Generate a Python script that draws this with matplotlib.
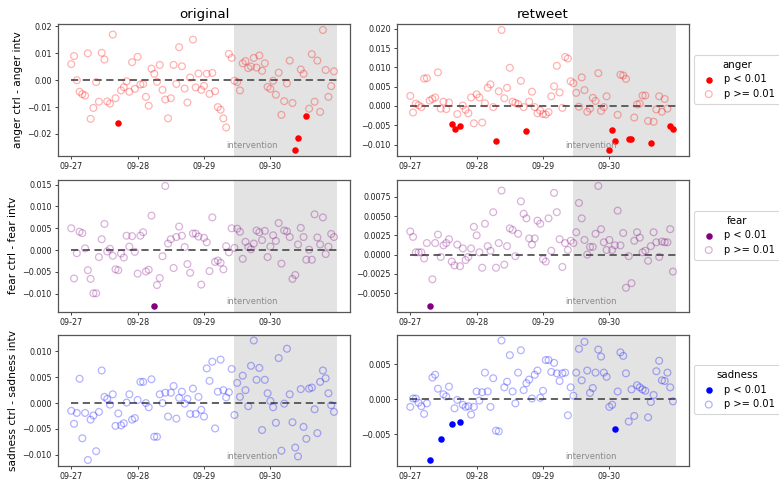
import numpy as np
import pandas as pd
import matplotlib
matplotlib.use("Agg")
import matplotlib.pyplot as plt
import matplotlib.dates as mdates
import matplotlib.transforms as mtransforms
from matplotlib.ticker import MultipleLocator, FixedLocator

# ---------------- data ----------------
hours = pd.date_range("2020-09-27 00:00", periods=96, freq="h")
day_ticks = pd.date_range("2020-09-27", periods=4, freq="D")
intervention_start = pd.Timestamp("2020-09-29 11:00")
intervention_end = pd.Timestamp("2020-10-01 00:00")
intervention_label_x = pd.Timestamp("2020-09-29 17:20")

emotions = ["anger", "fear", "sadness"]
columns = ["original", "retweet"]

anger_original = [
    0.006, 0.009, 0.0, -0.0043, -0.0052, -0.0057, 0.010, -0.0144, -0.0103, -0.0007,
    -0.008, 0.0102, 0.0077, -0.0079, -0.0087, 0.017, -0.0067, -0.016, -0.0038, -0.0026,
    -0.0004, -0.0043, 0.0067, -0.0032, 0.0087, -0.0016, -0.0014, -0.0062, -0.0095, 0.0043,
    0.0024, -0.0006, 0.0057, -0.0036, -0.0072, -0.0142, -0.0067, 0.0057, -0.0014, 0.0123,
    0.0052, -0.0031, -0.0083, 0.001, 0.0151, -0.0027, 0.0025, -0.0036, -0.0021, 0.0024,
    -0.0051, 0.0027, -0.0041, -0.010, -0.011, -0.0142, -0.0176, 0.0098, 0.0083, -0.0002,
    -0.0007, -0.0038, 0.0063, 0.0071, 0.0045, 0.0051, 0.0083, 0.0047, 0.0092, 0.0035,
    0.0063, -0.0025, -0.0032, -0.0002, -0.0054, 0.0028, -0.0129, -0.0078, -0.0012, 0.0073,
    -0.0085, -0.0258, -0.0214, 0.004, 0.0024, -0.0134, -0.0106, 0.0097, -0.008, 0.0073,
    -0.0118, 0.0187, 0.0038, -0.0062, -0.0022, 0.0033]
anger_original_sig = [17, 81, 82, 85]

anger_retweet = [
    0.0026, -0.0017, 0.0006, 0.0002, -0.0003, 0.0071, 0.0072, 0.0014, 0.0018, 0.0022,
    0.0087, -0.0007, 0.0011, -0.0008, 0.0009, -0.0047, -0.0061, -0.0021, -0.0053, 0.0001,
    -0.001, -0.0019, 0.0022, -0.0045, 0.003, 0.0022, -0.0043, 0.0007, 0.0047, 0.0056,
    -0.0003, -0.009, 0.0038, 0.0197, 0.002, 0.0047, 0.0099, 0.0011, 0.0008, 0.0005,
    0.0065, -0.0003, -0.0066, 0.0011, 0.0037, -0.0003, -0.0019, -0.0012, -0.0021, -0.0022,
    -0.0016, 0.0025, 0.0051, 0.0104, 0.0035, -0.0005, 0.0127, 0.0123, 0.0064, 0.0059,
    0.0034, -0.0002, 0.0074, 0.0041, -0.0015, -0.0007, 0.0021, 0.0013, 0.0085, -0.0013,
    -0.0003, 0.0025, -0.0113, -0.0063, -0.0091, -0.0023, 0.0081, 0.0079, 0.007, -0.0085,
    -0.0087, -0.003, 0.0004, 0.0006, 0.0027, 0.0027, -0.0039, -0.0097, -0.0041, -0.0009,
    0.0025, -0.0015, 0.0018, -0.0007, -0.0051, -0.0059]
anger_retweet_sig = [15, 16, 18, 31, 42, 72, 73, 74, 79, 80, 87, 94, 95]

fear_original = [
    0.005, -0.0065, -0.0007, 0.0042, 0.0039, 0.0004, -0.0046, -0.0066, -0.0099, -0.0099,
    -0.0016, 0.0025, 0.006, -0.0003, 0.0003, -0.0013, -0.0044, -0.0046, -0.0008, -0.0017,
    0.0033, 0.0008, 0.0032, -0.0004, -0.0054, 0.0033, 0.0041, -0.0049, -0.0045, 0.0079,
    -0.0127, -0.008, -0.0064, -0.0014, 0.0147, 0.0015, 0.0025, -0.0041, 0.003, 0.0054,
    0.0033, 0.0007, -0.0032, -0.0052, 0.0038, 0.0038, 0.0031, -0.0079, 0.0028, 0.0018,
    -0.0048, 0.0075, -0.0027, -0.0024, -0.0029, -0.0044, 0.0009, -0.0005, 0.005, 0.0005,
    0.0049, 0.0042, -0.002, 0.0019, 0.0007, 0.0002, 0.0015, 0.0045, 0.0041, 0.0023,
    0.0044, -0.0016, 0.0008, 0.0034, 0.0021, 0.0062, -0.0031, 0.0045, 0.0043, 0.003,
    -0.0066, -0.0057, 0.0013, 0.0051, 0.003, -0.0022, 0.0001, -0.0022, 0.0082, 0.0029,
    0.0013, 0.0075, -0.0009, 0.0008, 0.0037, 0.003]
fear_original_sig = [30]

fear_retweet = [
    0.003, 0.0023, 0.0003, 0.0003, 0.0003, -0.0005, 0.0015, -0.0066, -0.0032, 0.0015,
    0.0026, -0.0003, 0.0012, 0.0015, 0.002, -0.0009, -0.0014, 0.0013, -0.0015, 0.0008,
    -0.0007, -0.0003, 0.0008, 0.0036, 0.0025, 0.0003, -0.0017, 0.004, 0.0011, 0.0005,
    0.0055, -0.0017, 0.0015, 0.0083, -0.0013, 0.0011, 0.0034, 0.0032, -0.0002, 0.0027,
    0.0069, 0.0053, 0.0047, 0.0021, 0.0013, 0.0021, 0.0044, 0.004, -0.0006, -0.0009,
    0.0047, 0.0005, 0.008, 0.0055, 0.002, -0.0016, 0.0015, 0.0006, 0.0018, 0.0015,
    0.0029, 0.0067, 0.0047, 0.0019, 0.0, 0.001, 0.001, 0.0027, 0.0089, 0.0033,
    0.0016, 0.0006, 0.0019, 0.0006, 0.0012, 0.0057, 0.0012, 0.0028, -0.0043, -0.0002,
    -0.0037, 0.0018, 0.0029, 0.0022, 0.0003, 0.0005, -0.0008, 0.0011, 0.0029, 0.0016,
    -0.0003, 0.0017, 0.0016, 0.0016, 0.0033, -0.0022]
fear_retweet_sig = [7]

sadness_original = [
    -0.0015, -0.004, -0.0019, 0.0047, -0.0068, -0.0019, -0.011, -0.0032, -0.0024, -0.0093,
    -0.0017, 0.0063, 0.0012, 0.0008, -0.0003, 0.0017, -0.0044, -0.002, -0.0043, -0.0039,
    0.0001, 0.0017, -0.0032, -0.0029, 0.0006, 0.0041, 0.0041, 0.0, -0.0008, 0.0046,
    -0.0065, -0.0065, 0.0017, 0.0, 0.002, -0.0026, 0.002, 0.0033, -0.003, 0.001,
    0.0022, -0.0001, 0.0008, -0.0021, 0.0028, -0.0021, 0.0012, -0.0013, -0.0026, 0.0067,
    0.0043, 0.008, -0.0049, 0.0022, 0.0084, 0.0025, 0.0011, 0.0021, 0.0066, -0.0023,
    0.0039, 0.0012, 0.0053, 0.0025, -0.0006, 0.0072, 0.0121, 0.0045, 0.0068, -0.0052,
    0.0045, 0.0019, 0.0004, -0.0008, -0.0038, 0.0087, -0.0092, -0.0001, 0.0105, 0.0017,
    -0.0037, -0.0086, -0.0103, 0.0027, -0.0046, -0.0069, 0.0028, 0.003, -0.0012, -0.0058,
    0.0041, 0.0063, 0.0048, 0.0019, -0.0004, -0.0017]
sadness_original_sig = []

sadness_retweet = [
    -0.0011, 0.0001, 0.0001, -0.0005, -0.001, -0.0021, -0.0006, -0.0087, 0.0031, 0.0035,
    0.0015, -0.0057, 0.0007, 0.0004, 0.0018, -0.0036, -0.0013, -0.0001, -0.0032, -0.0008,
    -0.0011, -0.001, -0.0022, -0.0011, 0.0011, -0.0002, 0.001, 0.0038, 0.0011, -0.0011,
    0.003, -0.0045, -0.0046, 0.0084, 0.0017, 0.0025, 0.0063, 0.0011, -0.0006, 0.0038,
    0.007, 0.0013, 0.0023, 0.0028, 0.0001, 0.0035, 0.0041, 0.0002, 0.0012, 0.0056,
    0.0056, 0.0039, 0.0052, 0.0037, 0.0026, 0.0037, 0.0038, -0.0023, 0.0017, 0.0005,
    0.0038, 0.0072, 0.0027, 0.0082, 0.0041, 0.0009, 0.0016, 0.0038, 0.0071, 0.0061,
    0.0038, 0.0032, -0.0011, -0.0008, -0.0043, 0.0011, 0.0067, 0.0062, 0.0037, -0.0032,
    0.0014, -0.0024, 0.002, 0.0017, 0.0014, 0.0012, -0.0026, -0.0004, 0.0006, 0.004,
    0.0055, 0.0027, 0.0026, 0.0038, 0.0017, -0.0003]
sadness_retweet_sig = [7, 11, 15, 18, 74]

# ---------------- style ----------------
series = {
    ("anger", "original"): (anger_original, anger_original_sig),
    ("anger", "retweet"): (anger_retweet, anger_retweet_sig),
    ("fear", "original"): (fear_original, fear_original_sig),
    ("fear", "retweet"): (fear_retweet, fear_retweet_sig),
    ("sadness", "original"): (sadness_original, sadness_original_sig),
    ("sadness", "retweet"): (sadness_retweet, sadness_retweet_sig),
}
colors = {"anger": "#ff0000", "fear": "#800080", "sadness": "#0000ff"}
ystep = {
    ("anger", "original"): 0.01, ("anger", "retweet"): 0.005,
    ("fear", "original"): 0.005, ("fear", "retweet"): 0.0025,
    ("sadness", "original"): 0.005, ("sadness", "retweet"): 0.005,
}

W, H = 779, 482
fig = plt.figure(figsize=(W / 100, H / 100), dpi=100)

lefts = [58, 397]
width = 292
tops = [24, 180, 334.5]
height = 131.5

spine_col = "#555555"
for r, emo in enumerate(emotions):
    for c, col in enumerate(columns):
        ax = fig.add_axes([lefts[c] / W, (H - tops[r] - height) / H, width / W, height / H])
        vals, sig = series[(emo, col)]
        vals = np.asarray(vals)
        mask = np.zeros(len(vals), dtype=bool)
        mask[list(sig)] = True
        ax.axvspan(intervention_start, intervention_end, color="#e3e3e3", zorder=0, lw=0)
        ax.hlines(0, hours[0], intervention_end, colors="#555555", linestyles=(0, (4, 2.5)),
                  lw=1.3, zorder=1)
        h1 = ax.scatter(hours[mask], vals[mask], s=22, color=colors[emo], zorder=3,
                        label="p < 0.01", linewidths=0)
        h2 = ax.scatter(hours[~mask], vals[~mask], s=24, facecolors="none",
                        edgecolors=colors[emo], alpha=0.3, linewidths=0.9, zorder=2,
                        label="p >= 0.01")
        ax.xaxis.set_major_locator(FixedLocator(mdates.date2num(day_ticks)))
        ax.xaxis.set_major_formatter(mdates.DateFormatter("%m-%d"))
        ax.yaxis.set_major_locator(MultipleLocator(ystep[(emo, col)]))
        ax.tick_params(labelsize=5.8, length=2.5, width=0.6, pad=2, colors="#222222")
        for s in ax.spines.values():
            s.set_color(spine_col)
            s.set_linewidth(0.9)
        trans = mtransforms.blended_transform_factory(ax.transData, ax.transAxes)
        ax.text(intervention_label_x, 0.075, "intervention", transform=trans,
                ha="center", va="center", fontsize=6, color="#8a8a8a")
        if c == 0:
            ax.set_ylabel(f"{emo} ctrl - {emo} intv", fontsize=7.6, labelpad=3)
        if r == 0:
            ax.set_title(col, fontsize=9.6, pad=4)
        if c == 1:
            leg = ax.legend(handles=[h1, h2], title=emo, loc="center left",
                            bbox_to_anchor=(1.0, 0.58), fontsize=7.1, title_fontsize=7.4,
                            frameon=True, handletextpad=0.6, borderpad=0.5,
                            labelspacing=0.45)
            leg.get_frame().set_edgecolor("#cccccc")
            leg.get_frame().set_linewidth(0.8)

fig.savefig("out.png", dpi=100)
